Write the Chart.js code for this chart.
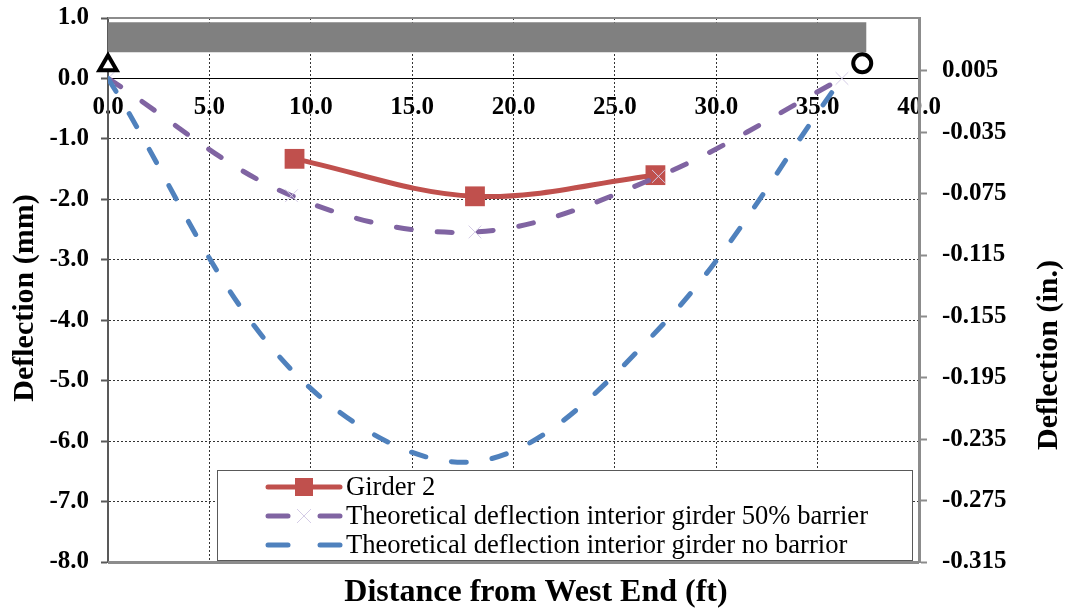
<!DOCTYPE html>
<html><head><meta charset="utf-8">
<script src="https://cdn.jsdelivr.net/npm/chart.js@4/dist/chart.umd.min.js"></script>
<style>html,body{margin:0;padding:0;background:#fff;}#wrap{width:1071px;height:616px;}</style>
</head><body><div id="wrap"><canvas id="c" width="1071" height="616"></canvas></div>
<script>
// ---- data ----
const girderX = [9.2, 18.1, 27.0];
const girderY = [-1.33, -1.95, -1.6];
const theoryX = [0, 9.05, 18.1, 27.15, 36.2];
const barrier50Y = [0, -1.94, -2.54, -1.62, 0];
const noBarrierY = [0, -4.82, -6.34, -4.15, 0];
const bridgeX = [0, 37.4];
const bridgeY = [0.68, 0.68];
const pinSupportX = [0];
const pinSupportY = [0.22];
const rollerSupportX = [37.2];
const rollerSupportY = [0.25];
const xTicks = [0, 5, 10, 15, 20, 25, 30, 35, 40];
const leftTicks = [1, 0, -1, -2, -3, -4, -5, -6, -7, -8];
const rightTicks = [0.005, -0.035, -0.075, -0.115, -0.155, -0.195, -0.235, -0.275, -0.315];
const seriesNames = ['Girder 2', 'Theoretical deflection interior girder 50% barrier', 'Theoretical deflection interior girder no barrior'];
const xTitle = 'Distance from West End (ft)';
const yTitle = 'Deflection (mm)';
const y2Title = 'Deflection (in.)';

const zip = (xs, ys) => xs.map((x, i) => ({x: x, y: ys[i]}));
const FAM = '"Liberation Serif", "Times New Roman", serif';
const tickFont = {family: FAM, size: 25, weight: 'bold'};
const RED = '#C0504D', PURPLE = '#8064A2', BLUE = '#4F81BD';
const DASH = [15, 26];

const dsBlue = {label: seriesNames[2], data: zip(theoryX, noBarrierY), borderColor: BLUE, backgroundColor: BLUE,
  borderWidth: 5, borderDash: DASH, borderCapStyle: 'round', pointRadius: 0, tension: 0.35};
const dsPurple = {label: seriesNames[1], data: zip(theoryX, barrier50Y), borderColor: PURPLE, backgroundColor: PURPLE,
  borderWidth: 5, borderDash: DASH, borderCapStyle: 'round', pointStyle: 'crossRot', pointRadius: 9,
  pointBorderColor: '#d4cce6', pointBorderWidth: 1, tension: 0.35};
const dsRed = {label: seriesNames[0], data: zip(girderX, girderY), borderColor: RED, backgroundColor: RED,
  borderWidth: 5, pointStyle: 'rect', pointRadius: 14, pointBorderWidth: 0, pointBackgroundColor: RED, tension: 0.35};
const dsBar = {label: 'bridge', data: zip(bridgeX, bridgeY), borderColor: '#808080', borderWidth: 30,
  borderCapStyle: 'butt', pointRadius: 0, tension: 0, clip: false};
const dsPin = {label: 'pin', data: zip(pinSupportX, pinSupportY), showLine: false, pointStyle: 'triangle',
  pointRadius: 10, pointBorderWidth: 4, pointBorderColor: '#000', pointBackgroundColor: '#fff', clip: false};
const dsRoller = {label: 'roller', data: zip(rollerSupportX, rollerSupportY), showLine: false, pointStyle: 'circle',
  pointRadius: 9, pointBorderWidth: 4, pointBorderColor: '#000', pointBackgroundColor: '#fff', clip: false};

const hideAt = (vals, col) => (ctx) => (ctx.tick && vals.includes(ctx.tick.value)) ? 'rgba(0,0,0,0)' : col;

const frame = {
  id: 'frame',
  beforeDatasetsDraw(chart) {
    const {ctx, chartArea: a} = chart;
    ctx.save();
    ctx.strokeStyle = '#8c8c8c';
    ctx.lineWidth = 2;
    ctx.beginPath(); ctx.moveTo(a.left, a.top); ctx.lineTo(a.right, a.top); ctx.stroke();
    ctx.lineWidth = 3;
    ctx.beginPath(); ctx.moveTo(a.left, a.bottom + 0.5); ctx.lineTo(a.right, a.bottom + 0.5); ctx.stroke();
    ctx.restore();
  },
  afterDraw(chart) {
    const {ctx} = chart;
    ctx.save();
    ctx.fillStyle = '#000';
    ctx.textAlign = 'center'; ctx.textBaseline = 'middle';
    ctx.font = 'bold 32px ' + FAM;
    ctx.fillText(xTitle, 536, 593);
    ctx.font = 'bold 30px ' + FAM;
    ctx.save(); ctx.translate(25, 298); ctx.rotate(-Math.PI / 2); ctx.fillText(yTitle, 0, 0); ctx.restore();
    ctx.save(); ctx.translate(1049, 355); ctx.rotate(-Math.PI / 2); ctx.fillText(y2Title, 0, 0); ctx.restore();
    ctx.restore();
  }
};

const boxLegend = {
  id: 'boxLegend',
  afterDatasetsDraw(chart) {
    const {ctx} = chart;
    const L = 217, T = 470, R = 912, B = 560;
    ctx.save();
    ctx.fillStyle = '#fff';
    ctx.fillRect(L, T, R - L, B - T);
    ctx.strokeStyle = '#595959'; ctx.lineWidth = 1;
    ctx.strokeRect(L + 0.5, T + 0.5, R - L, B - T);
    const rows = [487, 516, 545];
    const items = [dsRed, dsPurple, dsBlue];
    const x0 = 268, x1 = 340, xm = (x0 + x1) / 2;
    items.forEach((ds, i) => {
      const y = rows[i];
      ctx.save();
      ctx.strokeStyle = ds.borderColor; ctx.lineWidth = 5; ctx.lineCap = 'round';
      if (ds.borderDash) {
        ctx.beginPath(); ctx.moveTo(x0, y); ctx.lineTo(x0 + 20, y); ctx.stroke();
        ctx.beginPath(); ctx.moveTo(x1 - 20, y); ctx.lineTo(x1, y); ctx.stroke();
      } else {
        ctx.beginPath(); ctx.moveTo(x0, y); ctx.lineTo(x1, y); ctx.stroke();
      }
      ctx.restore();
      if (ds.pointStyle === 'rect') {
        ctx.fillStyle = ds.borderColor; ctx.fillRect(xm - 9, y - 9, 18, 18);
      } else if (ds.pointStyle === 'crossRot' && ds.pointRadius) {
        ctx.save(); ctx.strokeStyle = ds.pointBorderColor; ctx.lineWidth = 1;
        ctx.beginPath(); ctx.moveTo(xm - 7, y - 7); ctx.lineTo(xm + 7, y + 7);
        ctx.moveTo(xm + 7, y - 7); ctx.lineTo(xm - 7, y + 7); ctx.stroke(); ctx.restore();
      }
      ctx.save();
      ctx.font = '27px ' + FAM;
      ctx.fillStyle = '#000'; ctx.textBaseline = 'middle'; ctx.textAlign = 'left';
      const refW = ctx.measureText(seriesNames[1]).width;
      const sx = 522 / refW;
      ctx.translate(346, y + 1); ctx.scale(sx, 1);
      ctx.fillText(seriesNames[i], 0, 0);
      ctx.restore();
    });
    ctx.restore();
  }
};

const noPad = s => { s.paddingTop = 0; s.paddingBottom = 0; };

new Chart(document.getElementById('c'), {
  type: 'line',
  data: {datasets: [dsPin, dsRoller, dsBlue, dsPurple, dsRed, dsBar]},
  options: {
    responsive: false, animation: false, devicePixelRatio: 1,
    layout: {padding: {top: 18, bottom: 54, left: 0, right: 0}},
    plugins: {legend: {display: false}, tooltip: {enabled: false}},
    scales: {
      x: {
        type: 'linear', min: 0, max: 40, position: {y: 0},
        afterBuildTicks: s => { s.ticks = xTicks.map(v => ({value: v})); },
        afterFit: s => { s.paddingLeft = 0; s.paddingRight = 0; },
        ticks: {callback: v => Number(v).toFixed(1), font: tickFont, color: '#000', padding: 14, maxRotation: 0, autoSkip: false},
        grid: {color: hideAt([0, 40], '#333'), lineWidth: 1, drawTicks: false},
        border: {display: true, color: '#000', width: 1, dash: [2, 2]}
      },
      y: {
        type: 'linear', position: 'left', min: -8, max: 1,
        afterBuildTicks: s => { s.ticks = leftTicks.map(v => ({value: v})); },
        afterFit: s => { s.width = 108; noPad(s); },
        ticks: {callback: v => Number(v).toFixed(1), font: tickFont, color: '#000', padding: 12, autoSkip: false},
        grid: {color: hideAt([1, 0, -8], '#333'), lineWidth: 1, tickLength: 7, tickColor: '#595959', tickWidth: 2, tickBorderDash: []},
        border: {display: true, color: '#595959', width: 2, dash: [2, 2]}
      },
      y2: {
        type: 'linear', position: 'right', min: -0.315, max: 0.0394,
        afterBuildTicks: s => { s.ticks = rightTicks.map(v => ({value: v})); },
        afterFit: s => { s.width = 152; noPad(s); },
        ticks: {callback: v => Number(v).toFixed(3), font: tickFont, color: '#000', padding: 15, autoSkip: false},
        grid: {drawOnChartArea: false, tickLength: 8, tickColor: '#8c8c8c', tickWidth: 2},
        border: {display: true, color: '#8c8c8c', width: 3}
      }
    }
  },
  plugins: [frame, boxLegend]
});
</script></body></html>
